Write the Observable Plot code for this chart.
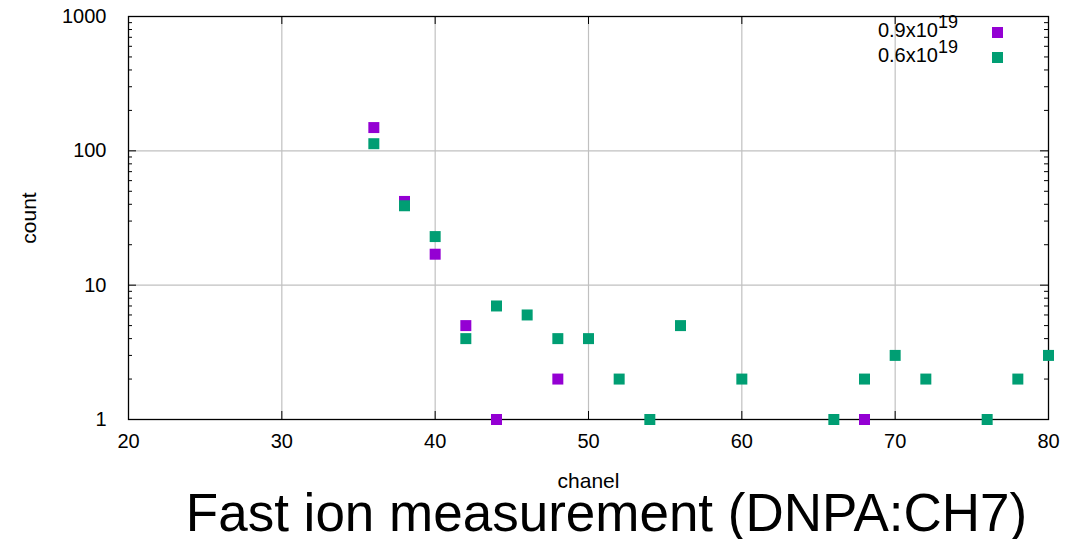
<!DOCTYPE html>
<html><head><meta charset="utf-8">
<script src="https://cdn.jsdelivr.net/npm/d3@7"></script>
<script src="https://cdn.jsdelivr.net/npm/@observablehq/plot@0.6"></script>
<style>
body{margin:0;background:#fff;font-family:"Liberation Sans",Arial,sans-serif;}
#wrap{position:relative;width:1081px;height:539px;overflow:hidden;}
#chart{position:absolute;top:0;left:0;}
#legend{position:absolute;top:0;left:0;width:1081px;font-size:20px;}
.lr{position:absolute;right:123px;white-space:nowrap;line-height:20px;}
.lr sup{font-size:18px;vertical-align:9px;line-height:0}
.sw{position:absolute;width:11px;height:11px;}
#title{position:absolute;top:493px;left:0;width:1081px;text-align:center;font-size:53px;line-height:40px;padding-left:132px;box-sizing:border-box;}
</style></head><body>
<div id="wrap"><div id="chart"></div>
<div id="legend"></div>
<div id="title">Fast ion measurement (DNPA:CH7)</div></div>
<script>
const seriesNames = ["0.9x10^19", "0.6x10^19"];
const seriesColors = ["#9400d3", "#009e73"];
const chA = [36, 38, 40, 42, 44, 48, 68];
const countA = [149, 42, 17, 5, 1, 2, 1];
const chB = [36, 38, 40, 42, 44, 46, 48, 50, 52, 54, 56, 60, 66, 68, 70, 72, 76, 78, 80];
const countB = [113, 39, 23, 4, 7, 6, 4, 4, 2, 1, 5, 2, 1, 2, 3, 2, 1, 2, 3];
const xTicks = [20, 30, 40, 50, 60, 70, 80];
const yTicks = [1, 10, 100, 1000];

const dataA = chA.map((c,i)=>({ch:c, count:countA[i], s:seriesNames[0]}));
const dataB = chB.map((c,i)=>({ch:c, count:countB[i], s:seriesNames[1]}));
const minor = [];
for (const d of [1,10,100]) for (let k=2;k<=9;k++) minor.push(d*k);
const W=1081, H=500, mL=128, mR=33, mT=16, mB=81;
const pw = W-mL-mR, ph = H-mT-mB;

const plot = Plot.plot({
  width: W, height: H,
  marginLeft: mL, marginRight: mR, marginTop: mT, marginBottom: mB,
  style: {fontFamily: '"Liberation Sans", Arial, sans-serif', fontSize: "20px", color:"#000", background:"transparent"},
  x: {domain: [20, 80], ticks: xTicks},
  y: {type: "log", domain: [1, 1000], ticks: yTicks},
  color: {domain: seriesNames, range: seriesColors},
  marks: [
    Plot.gridX(xTicks.slice(1,-1), {stroke: "#c0c0c0", strokeOpacity: 1, strokeWidth: 1.2}),
    Plot.gridY(yTicks.slice(1,-1), {stroke: "#c0c0c0", strokeOpacity: 1, strokeWidth: 1.2}),
    Plot.tickY(minor, {y: d=>d, insetRight: pw-4, stroke:"#000"}),
    Plot.tickY(minor, {y: d=>d, insetLeft: pw-4, stroke:"#000"}),
    Plot.tickY(yTicks, {y: d=>d, insetRight: pw-8, stroke:"#000"}),
    Plot.tickY(yTicks, {y: d=>d, insetLeft: pw-8, stroke:"#000"}),
    Plot.tickX(xTicks, {x: d=>d, insetTop: ph-8, stroke:"#000"}),
    Plot.tickX(xTicks, {x: d=>d, insetBottom: ph-8, stroke:"#000"}),
    Plot.frame({stroke:"#000", strokeWidth: 1.3}),
    Plot.axisX(xTicks, {tickSize: 0, tickPadding: 14, fontSize: 20, label: null}),
    Plot.axisY(yTicks, {tickSize: 0, tickPadding: 22, tickFormat: d=>String(d), fontSize: 20, label: null}),
    Plot.axisX({tickSize: 0, ticks: [], fontSize: 21, label: "chanel", labelAnchor: "center", labelArrow: "none", labelOffset: 68}),
    Plot.axisY({tickSize: 0, ticks: [], fontSize: 21, label: "count", labelAnchor: "center", labelArrow: "none", labelOffset: 107}),
    Plot.dot(dataA, {x: "ch", y: "count", fill: "s", symbol: "square", r: 6.2}),
    Plot.dot(dataB, {x: "ch", y: "count", fill: "s", symbol: "square", r: 6.2})
  ]
});
document.getElementById("chart").appendChild(plot);

const lg = document.getElementById("legend");
seriesNames.forEach((n,i)=>{
  const [base, exp] = n.split("^");
  const t = document.createElement("div");
  t.className = "lr";
  t.style.top = (20 + i*25)+"px";
  t.innerHTML = base + "<sup>" + exp + "</sup>";
  lg.appendChild(t);
  const s = document.createElement("div");
  s.className = "sw";
  s.style.background = seriesColors[i];
  s.style.left = "992px";
  s.style.top = (27 + i*25)+"px";
  lg.appendChild(s);
});
</script>
</body></html>
